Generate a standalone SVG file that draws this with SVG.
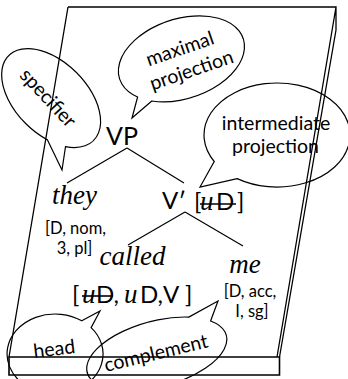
<svg xmlns="http://www.w3.org/2000/svg" width="348" height="379" viewBox="0 0 348 379">
<style>
.paper{fill:none;stroke:#000;stroke-width:1.3;stroke-linejoin:miter}
.edge{fill:none;stroke:#000;stroke-width:1.6}
.bub{fill:none;stroke:#000;stroke-width:1.2;stroke-linejoin:miter}
.con{fill:none;stroke:#000;stroke-width:1.2}
.strike{fill:none;stroke:#000;stroke-width:1.6}
.sans{font-family:Lato,'Open Sans',sans-serif;fill:#000}
.it{font-family:'Liberation Serif','Times New Roman',serif;font-style:italic;fill:#000}
.bl{font-size:19.5px}
.ft{font-size:16.5px}
.cat{font-size:24px}
.word{font-size:27px}
.iu{font-size:27px}
</style>
<rect width="348" height="379" fill="#fff"/>
<g id="paper">
<path class="paper" d="M68,7 L336,7 L277,357 M68,7 L9,357 M336,7 L336,30 L279.5,357"/>
<path class="edge" d="M9,357 H279.5 V375 H9 Z"/>
</g>
<g id="connectors">
<path class="con" d="M127,148 L67,183 M127,148 L184,183 M185,212 L128,245 M185,212 L243,246"/>
</g>
<g id="bubble-specifier">
<path class="bub" d="M47.5,139.9 L62,170 L65.5,146.6 A60 36 45 1 0 47.5,139.9 Z"/>
<text class="sans bl" text-anchor="middle" transform="translate(43.3,102.4) rotate(47)">specifier</text>
</g>
<g id="bubble-maximal">
<path class="bub" d="M151.8,101 L132,118 L137.6,97 A65 40 -18 1 1 151.8,101 Z"/>
<text class="sans bl" text-anchor="middle" transform="translate(182,55) rotate(-19)"><tspan x="0" y="0">maximal</tspan><tspan x="4" y="24">projection</tspan></text>
</g>
<g id="bubble-intermediate">
<path class="bub" d="M237.2,178.6 L200,187 L214.2,161.5 A73 52 0 1 1 237.2,178.6 Z"/>
<text class="sans bl" text-anchor="middle"><tspan x="276" y="130">intermediate</tspan><tspan x="275.5" y="153">projection</tspan></text>
</g>
<g id="bubble-head">
<path class="bub" d="M81.8,320.8 L100,311 L91.1,327.6 A48 40 0 1 1 81.8,320.8 Z"/>
<text class="sans bl" text-anchor="middle" transform="translate(55,355.5) rotate(-7)">head</text>
</g>
<g id="bubble-complement">
<path class="bub" d="M188.8,317.1 L218,301 L210.6,321 A72 33 -15 1 1 188.8,317.1 Z"/>
<text class="sans bl" text-anchor="middle" transform="translate(157.5,359.5) rotate(-13.6)">complement</text>
</g>
<g id="node-VP">
<text class="sans" font-size="25" text-anchor="middle" x="122" y="145">VP</text>
</g>
<g id="node-they">
<text class="it word" text-anchor="middle" x="74.5" y="204">they</text>
<text class="sans ft" text-anchor="middle"><tspan x="75.5" y="234">[D, nom,</tspan><tspan x="74.5" y="254">3, pl]</tspan></text>
</g>
<g id="node-Vbar">
<text class="sans cat" x="162" y="209">V′</text>
<text class="sans cat" y="210"><tspan x="194">[</tspan><tspan class="it iu" x="200">u</tspan><tspan x="216">D</tspan><tspan x="237">]</tspan></text>
<path class="strike" d="M200,204 H236"/>
</g>
<g id="node-called">
<text class="it word" text-anchor="middle" x="132.5" y="265">called</text>
<text class="sans cat" y="303"><tspan x="72">[</tspan><tspan class="it iu" x="82">u</tspan><tspan x="96">D,</tspan><tspan class="it iu" x="124">u</tspan><tspan x="140">D,</tspan><tspan x="163">V</tspan><tspan x="185">]</tspan></text>
<path class="strike" d="M82,296 H113"/>
</g>
<g id="node-me">
<text class="it word" text-anchor="middle" x="245" y="273">me</text>
<text class="sans ft" text-anchor="middle"><tspan x="250" y="297">[D, acc,</tspan><tspan x="252" y="317">I, sg]</tspan></text>
</g>
</svg>
